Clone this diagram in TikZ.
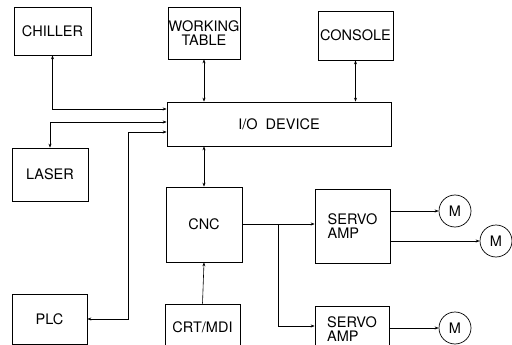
\documentclass[tikz,border=0pt]{standalone}
\usepackage{fontspec}
\setmainfont{TeX Gyre Heros}
\usetikzlibrary{arrows.meta}
\begin{document}
\begin{tikzpicture}[x=1pt,y=-1pt,
  box/.style={draw,line width=0.7pt,inner sep=0pt,font=\fontsize{14.5}{16}\selectfont,align=center},
  motor/.style={draw,line width=0.7pt,circle,minimum size=32pt,inner sep=0pt,font=\fontsize{14.5}{16}\selectfont},
  conn/.style={line width=0.6pt},
  >={Stealth[length=4pt,width=3pt]}]
\clip (0,0) rectangle (512,345);
\useasboundingbox (0,0) rectangle (512,345);
\node[box,minimum width=77pt,minimum height=48pt] (chiller) at (52.5,31) {CHILLER};
\node[box,minimum width=72pt,minimum height=52pt] (wt) at (204,33) {WORKING\\[-2pt]TABLE};
\node[box,minimum width=75pt,minimum height=49pt] (console) at (355.5,35.5) {CONSOLE};
\node[box,minimum width=224pt,minimum height=44pt] (io) at (279,124) {I/O\ \ DEVICE};
\node[box,minimum width=76pt,minimum height=53pt] (laser) at (50,174.5) {LASER};
\node[box,minimum width=75pt,minimum height=50pt] (plc) at (49.5,319) {PLC};
\node[box,minimum width=76pt,minimum height=75pt] (cnc) at (204,224.5) {CNC};
\node[box,minimum width=75pt,minimum height=46pt] (crt) at (202.5,327) {CRT/MDI};
\node[box,minimum width=75pt,minimum height=74pt,align=left] (servo1) at (352.5,226) {SERVO\\[-2pt]AMP};
\node[box,minimum width=74pt,minimum height=46pt,align=left] (servo2) at (352,329) {SERVO\\[-2pt]AMP};
\node[motor] (m1) at (455,211) {M};
\node[motor] (m2) at (496,241) {M};
\node[motor] (m3) at (455,328) {M};
\coordinate (plcbend) at (128,132);
\coordinate (branch) at (278,224);
\draw[conn,<->] (chiller.south) |- (io.west |- 0,109);
\draw[conn,<->] (laser.north) |- (io.west |- 0,122);
\draw[conn,<->] (plc.east) -| (plcbend) -- (io.west |- plcbend);
\draw[conn,<->] (wt.south) -- (wt.south |- io.north);
\draw[conn,<->] (console.south) -- (console.south |- io.north);
\draw[conn,<->] (io.south -| cnc.north) -- (cnc.north);
\draw[conn,->] (crt.north) -- (cnc.south);
\draw[conn,->] (cnc.east |- branch) -- (servo1.west |- branch);
\draw[conn,->] (branch) |- (servo2.west |- 0,326);
\draw[conn,->] (servo1.east |- m1) -- (m1.west);
\draw[conn,->] (servo1.east |- m2) -- (m2.west);
\draw[conn,->] (servo2.east |- m3) -- (m3.west);
\end{tikzpicture}
\end{document}
